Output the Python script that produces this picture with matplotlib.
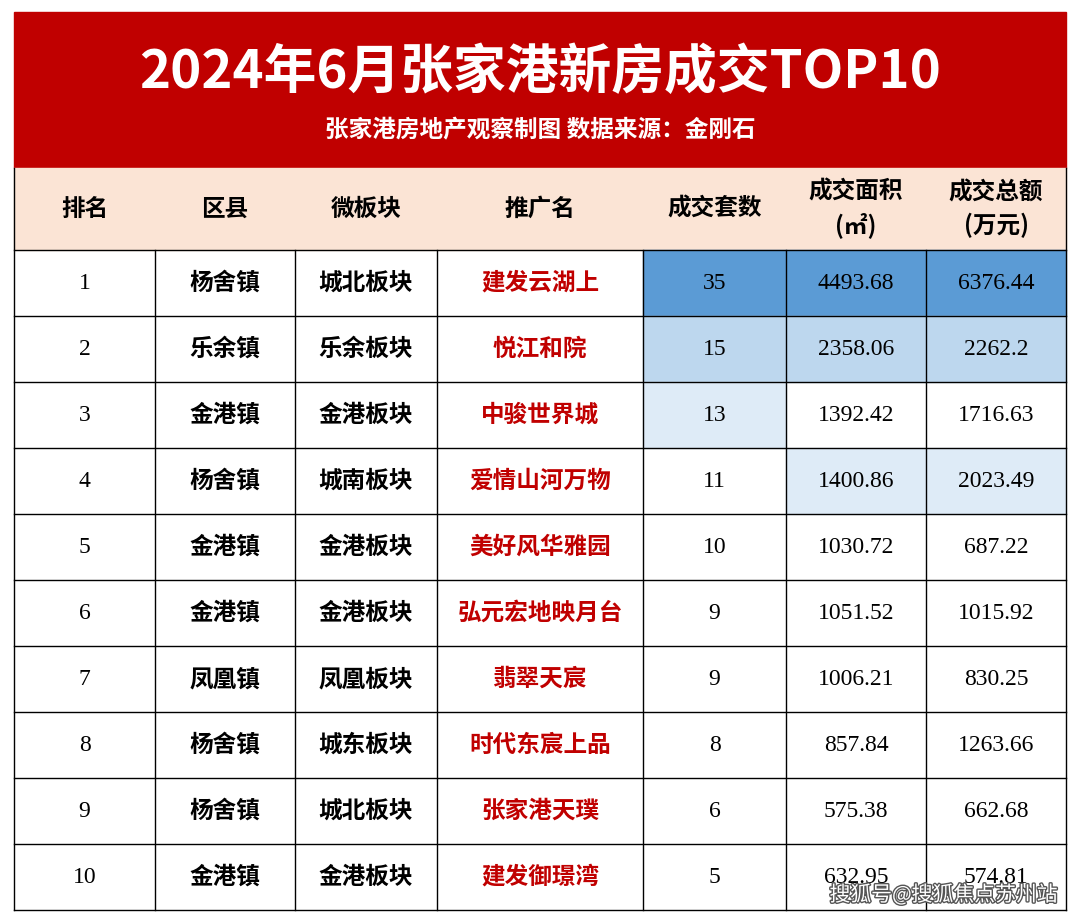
import matplotlib.pyplot as plt
from matplotlib.patches import Rectangle
import matplotlib.patheffects as pe

plt.rcParams['font.family'] = 'Noto Sans CJK SC'

title = '2024年6月张家港新房成交TOP10'
subtitle = '张家港房地产观察制图 数据来源：金刚石'
headers = ['排名', '区县', '微板块', '推广名', '成交套数', '成交面积\n(㎡)', '成交总额\n(万元)']
ranks = list(range(1, 11))
districts = ['杨舍镇', '乐余镇', '金港镇', '杨舍镇', '金港镇', '金港镇', '凤凰镇', '杨舍镇', '杨舍镇', '金港镇']
blocks = ['城北板块', '乐余板块', '金港板块', '城南板块', '金港板块', '金港板块', '凤凰板块', '城东板块', '城北板块', '金港板块']
names = ['建发云湖上', '悦江和院', '中骏世界城', '爱情山河万物', '美好风华雅园',
         '弘元宏地映月台', '翡翠天宸', '时代东宸上品', '张家港天璞', '建发御璟湾']
units = [35, 15, 13, 11, 10, 9, 9, 8, 6, 5]
areas = ['4493.68', '2358.06', '1392.42', '1400.86', '1030.72', '1051.52', '1006.21', '857.84', '575.38', '632.95']
totals = ['6376.44', '2262.2', '1716.63', '2023.49', '687.22', '1015.92', '830.25', '1263.66', '662.68', '574.81']

fig = plt.figure(figsize=(10.8, 9.21), dpi=100)
ax = fig.add_axes([0, 0, 1, 1])
ax.set_xlim(0, 1080)
ax.set_ylim(921, 0)
ax.axis('off')

cols = [14, 155, 295, 437, 643, 786, 926, 1066]
top, head_h, row_h = 168, 82, 66

# title block
ax.add_patch(Rectangle((14, 12), 1052, top - 12, color='#c00000'))
ax.text(540, 72, title, color='white', fontsize=38, fontweight='bold', ha='center', va='center')
ax.text(540, 130, subtitle, color='white', fontsize=17, fontweight='bold', ha='center', va='center')

# header
ax.add_patch(Rectangle((14, top), 1052, head_h, color='#fbe4d5'))
for i, h in enumerate(headers):
    ax.text((cols[i] + cols[i + 1]) / 2, top + head_h / 2, h, fontsize=17, fontweight='bold',
            ha='center', va='center', linespacing=1.4)

shades = ['#5b9bd5', '#bdd7ee', '#deebf7']

def top3(vals):
    order = sorted(range(len(vals)), key=lambda k: -float(vals[k]))
    return {k: shades[j] for j, k in enumerate(order[:3])}

fills = {4: top3(units), 5: top3(areas), 6: top3(totals)}

y0 = top + head_h
for r in range(10):
    y = y0 + r * row_h
    row = [str(ranks[r]), districts[r], blocks[r], names[r], str(units[r]), areas[r], totals[r]]
    for c, val in enumerate(row):
        if c in fills and r in fills[c]:
            ax.add_patch(Rectangle((cols[c], y), cols[c + 1] - cols[c], row_h, color=fills[c][r]))
        color = '#c00000' if c == 3 else 'black'
        weight = 'bold' if c in (1, 2, 3) else 'normal'
        fam = 'Liberation Serif' if c in (0, 4, 5, 6) else 'Noto Sans CJK SC'
        ax.text((cols[c] + cols[c + 1]) / 2, y + row_h / 2, val, fontsize=17, color=color,
                fontweight=weight, family=fam, ha='center', va='center')

bottom = y0 + 10 * row_h
for x in cols:
    ax.plot([x, x], [top if x in (14, 1066) else y0, bottom], color='black', lw=1)
for r in range(11):
    ax.plot([14, 1066], [y0 + r * row_h] * 2, color='black', lw=1)

ax.text(1058, 895, '搜狐号@搜狐焦点苏州站', color='white', fontsize=15, ha='right', va='center',
        path_effects=[pe.withStroke(linewidth=2, foreground='#555555')])

fig.savefig('out.png', dpi=100)
